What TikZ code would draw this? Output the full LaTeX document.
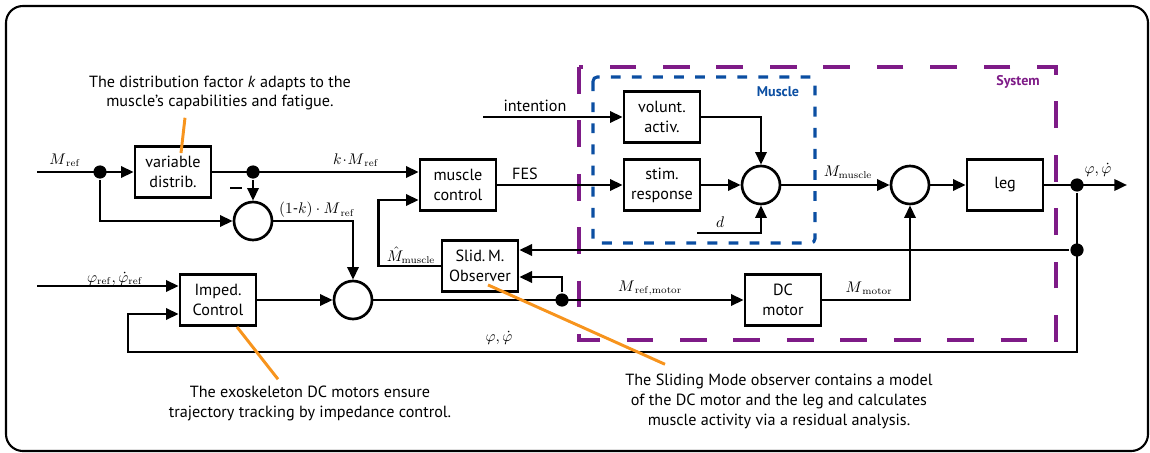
\documentclass[tikz,border=0pt]{standalone}
\usepackage[no-math]{fontspec}
\setmainfont{PT Sans}
\usepackage{tikz}
\usetikzlibrary{arrows.meta,calc}
\definecolor{SysPurple}{HTML}{7E1B87}
\definecolor{MuscleBlue}{HTML}{0B4EA2}
\definecolor{NoteOrange}{HTML}{F7941D}

\begin{document}
\begin{tikzpicture}[x=0.025cm,y=-0.025cm,font=\fontsize{11.5}{14.2}\selectfont,
 >={Triangle[length=9pt,width=8pt]},line width=1.9pt,
 blk/.style={draw,align=center,minimum width=1.9cm,minimum height=1.28cm,inner sep=1pt},
 sum/.style={draw,circle,minimum size=0.95cm,inner sep=0pt},
 dot/.style={circle,fill,inner sep=0pt,minimum size=0.33cm},
 lbl/.style={font=\fontsize{10.5}{12}\selectfont,inner sep=0pt},
 note/.style={align=center,inner sep=0pt},
 pointer/.style={draw=NoteOrange,line width=2.1pt}]
\useasboundingbox (0,0) rectangle (1150,453);
\draw[line width=1.5pt,rounded corners=12pt] (6,6) rectangle (1148,451);
\draw[SysPurple,line width=2.2pt,dash pattern=on 19pt off 19pt] (579,67) rectangle (1056,340);
\draw[MuscleBlue,line width=2.2pt,dash pattern=on 7pt off 8pt,rounded corners=3pt] (593,77) rectangle (815,243);
\node[text=MuscleBlue,font=\bfseries] (tMuscle) at (778,92) {Muscle};
\node[text=SysPurple,font=\bfseries] (tSystem) at (1018,82) {System};

\node[blk] (distr) at (173,172) {variable\\distrib.};
\node[sum] (sumA) at (253,221) {};
\node[sum] (sumB) at (353,300) {};
\node[blk] (imp) at (218,300) {Imped.\\Control};
\node[blk] (mctrl) at (458,185) {muscle\\control};
\node[blk] (obs) at (480,266) {Slid.\,M.\\Observer};
\node[blk] (dcm) at (783,300) {DC\\motor};
\node[blk] (vol) at (662,117) {volunt.\\activ.};
\node[blk] (stim) at (662,185) {stim.\\response};
\node[sum] (sumM) at (761,185) {};
\node[sum] (sumL) at (910,185) {};
\node[blk] (leg) at (1005,185) {leg};

\node[dot] (d1) at (100,172) {};
\node[dot] (d2) at (253,172) {};
\node[dot] (d3) at (562,300) {};
\node[dot] (d4) at (1077,185) {};
\node[dot] (d5) at (1077,250) {};
\coordinate (inA) at (37,172);
\coordinate (inB) at (37,286);
\coordinate (intn) at (483,117);
\coordinate (dist) at (697,233);
\coordinate (out) at (1127,185);
\coordinate (fbR) at (1077,352);
\coordinate (fbL) at (128,352);

\draw[->] (inA) -- (distr.west);
\draw[->] (distr.east) -- (mctrl.west |- distr.east);
\draw[->] (d2) -- (sumA.north);
\draw[->] (d1) |- (sumA.west);
\draw[->] (sumA.east) -| (sumB.north);
\draw[->] (inB) -- (imp.west |- inB);
\draw[->] (imp.east) -- (sumB.west);
\draw[->] (sumB.east) -- (dcm.west);
\draw[->] (d3) |- ($(obs.east)+(0,11)$);
\draw[->] (d5) -- (obs.east |- d5);
\draw[->] (obs.west) -- ++(-62,0) |- ($(mctrl.west)+(0,15)$);
\draw[->] (intn) -- (vol.west);
\draw[->] (mctrl.east) -- (stim.west);
\draw[->] (vol.east) -| (sumM.north);
\draw[->] (stim.east) -- (sumM.west);
\draw[->] (dist) -| (sumM.south);
\draw[->] (sumM.east) -- (sumL.west);
\draw[->] (dcm.east) -| (sumL.south);
\draw[->] (sumL.east) -- (leg.west);
\draw[->] (leg.east) -- (out);
\draw[->] (d4) -- (fbR) -- (fbL) |- ($(imp.west)+(0,14)$);

\node[lbl] (lMref) at (65,160) {$M_{\,\mathrm{ref}}$};
\node[lbl] (lkM) at (356,160) {$k\!\cdot\!M_{\,\mathrm{ref}}$};
\node[lbl] (l1kM) at (317,210) {$(1$-$k)\cdot M_{\,\mathrm{ref}}$};
\node[lbl] (lMinus) at (236,188) {\rule{8pt}{2pt}};
\node[lbl] (lPhiRef) at (115,279) {$\varphi_{\mathrm{ref}},\dot\varphi_{\mathrm{ref}}$};
\node[lbl] (lMhat) at (411,255) {$\hat M_{\mathrm{muscle}}$};
\node (lFES) at (525,174) {FES};
\node (lInt) at (535,106) {intention};
\node[lbl] (lDist) at (720,222) {$d$};
\node[lbl] (lMmus) at (848,172) {$M_{\mathrm{muscle}}$};
\node[lbl] (lPhiOut) at (1098,170) {$\varphi,\dot\varphi$};
\node[lbl] (lMrm) at (650,288) {$M_{\,\mathrm{ref,motor}}$};
\node[lbl] (lMmot) at (869,288) {$M_{\,\mathrm{motor}}$};
\node[lbl] (lPhiFb) at (499,338) {$\varphi,\dot\varphi$};

\node[note] (nDistr) at (220,93) {The distribution factor \textit{k} adapts to the\\muscle's capabilities and fatigue.};
\node[note] (nImp) at (310,403) {The exoskeleton DC motors ensure\\trajectory tracking by impedance control.};
\node[note] (nObs) at (779,401) {The Sliding Mode observer contains a model\\of the DC motor and the leg and calculates\\muscle activity via a residual analysis.};
\draw[pointer] ($(nDistr.south)+(-35,6)$) -- ($(distr.north)+(8,8)$);
\draw[pointer] ($(imp.south)+(19,0)$) -- ($(nImp.north)+(-32,-5)$);
\draw[pointer] ($(obs.south)+(8,-8)$) -- ($(nObs.north)+(-114,-8)$);
\end{tikzpicture}
\end{document}
